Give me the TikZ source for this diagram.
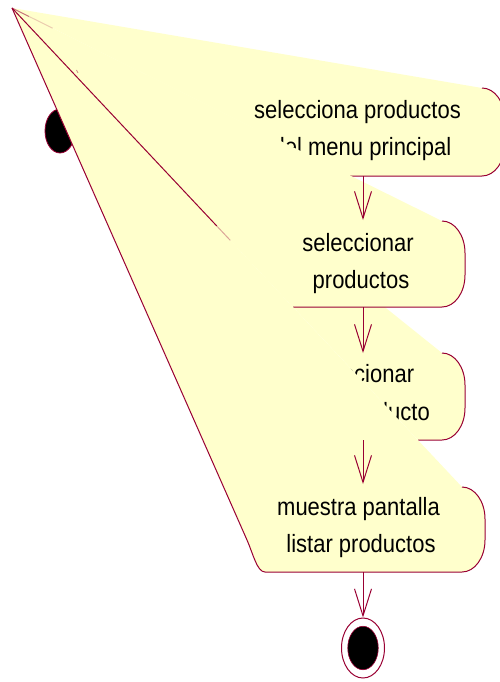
\documentclass[tikz,border=0pt]{standalone}
\usepackage{fontspec}
\setmainfont[FakeStretch=0.88]{Liberation Sans}
\usetikzlibrary{arrows.meta,shapes.geometric,calc}
\definecolor{roseyellow}{RGB}{255,255,204}
\definecolor{rosered}{RGB}{153,0,51}
\begin{document}
\begin{tikzpicture}[x=1pt,y=-1pt,
  fillarea/.style={fill=roseyellow, draw=none},
  edge/.style={draw=rosered, line width=1pt},
  lbl/.style={anchor=base, inner sep=0pt, font=\fontsize{25}{28}\selectfont, text=black},
  flow/.style={draw=rosered, line width=1pt, -{Straight Barb[length=27pt,width=17pt,line width=1pt]}},
  crn/.style={x radius=23pt, y radius=32pt}]
\useasboundingbox (0,0) rectangle (500,682);
\clip (0,0) rectangle (500,682);
\coordinate (A) at (12,8);

% start state
\node (start) [ellipse, draw=rosered, line width=0.8pt, fill=black, minimum width=30pt, minimum height=44pt, inner sep=0pt] at (60,131) {};

% activity 1
\fill[fillarea] (A) -- (482,88) arc[start angle=90,end angle=0,crn] -- (505,144) arc[start angle=0,end angle=-90,crn] -- (350,176) -- cycle;
\draw[edge] (482,88) arc[start angle=90,end angle=0,crn] -- (505,144) arc[start angle=0,end angle=-90,crn] -- (350,176);
\node (b1a) [lbl] at (357.5,119) {selecciona productos};
\node (b1b) [lbl] at (362,155) {del menu principal};

% activity 3
\fill[fillarea] (A) -- (442,353) arc[start angle=90,end angle=0,crn] -- (465,408) arc[start angle=0,end angle=-90,crn] -- (418,440) -- cycle;
\draw[edge] (442,353) arc[start angle=90,end angle=0,crn] -- (465,408) arc[start angle=0,end angle=-90,crn] -- (418,440);
\node (b3a) [lbl] at (358.5,382) {seleccionar};
\node (b3b) [lbl] at (387,420) {producto};

% activity 2
\fill[fillarea] (A) -- (442,221) arc[start angle=90,end angle=0,crn] -- (465,275) arc[start angle=0,end angle=-90,crn] -- (293,307) -- cycle;
\draw[edge] (442,221) arc[start angle=90,end angle=0,crn] -- (465,275) arc[start angle=0,end angle=-90,crn] -- (293,307);
\node (b2a) [lbl] at (358,251) {seleccionar};
\node (b2b) [lbl] at (361,288) {productos};

% activity 4
\fill[fillarea] (A) -- (462,487) arc[start angle=90,end angle=0,crn] -- (485,540) arc[start angle=0,end angle=-90,crn] -- (265,572) .. controls (257,572) and (253,553.5) .. (247,540) -- cycle;
\draw[edge] (A) -- (247,540) .. controls (253,553.5) and (257,572) .. (265,572) -- (462,572) arc[start angle=-90,end angle=0,crn] -- (485,519) arc[start angle=0,end angle=90,crn];
\node (b4a) [lbl] at (358.5,515) {muestra pantalla};
\node (b4b) [lbl] at (361,552) {listar productos};

% stray edge fragments
\draw[edge] (A) -- ($(A)!0.455!(462,487)$);
\draw[edge, opacity=0.35] ($(A)!0.455!(462,487)$) -- ($(A)!0.485!(462,487)$);
\draw[edge, opacity=0.55] (A) -- ($(A)!0.05!(350,176)$);
\draw[edge, opacity=0.2] ($(A)!0.05!(350,176)$) -- ($(A)!0.12!(350,176)$);
\draw[draw=rosered, line width=0.8pt, opacity=0.45] (76.5,70) -- (78,73);

% transitions
\coordinate (t1s) at (363,176);
\coordinate (t1e) at (363,220);
\coordinate (t2s) at (363,307);
\coordinate (t2e) at (363,353);
\coordinate (t3s) at (363,440);
\coordinate (t3e) at (363,484);
\coordinate (t4s) at (363,572);

% end state
\node (endo) [ellipse, draw=rosered, line width=1pt, minimum width=43pt, minimum height=60pt, inner sep=0pt] at (363,648) {};
\node (endi) [ellipse, draw=rosered, line width=0.6pt, fill=black, minimum width=30.5pt, minimum height=43.5pt, inner sep=0pt] at (363,648) {};

\draw[flow] (t1s) -- (t1e);
\draw[flow] (t2s) -- (t2e);
\draw[flow] (t3s) -- (t3e);
\draw[flow] (t4s) -- (endo.north);
\end{tikzpicture}
\end{document}
